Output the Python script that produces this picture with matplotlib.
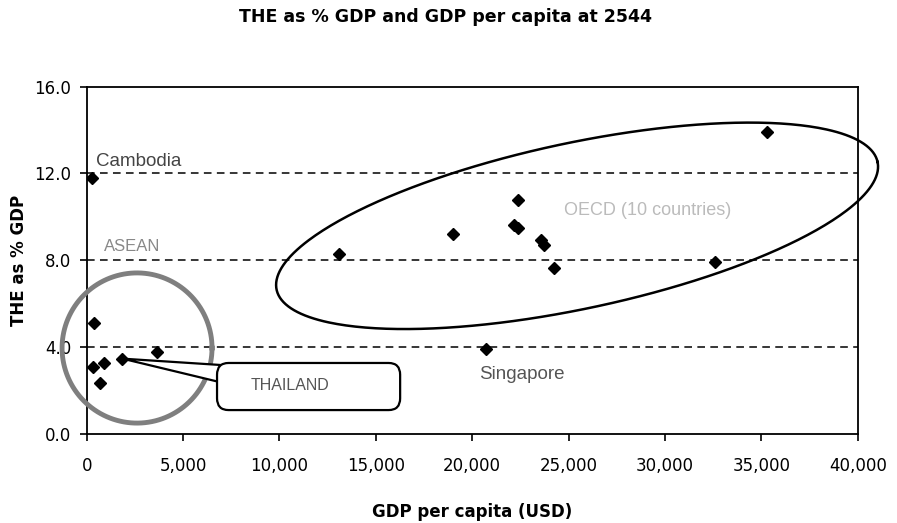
import matplotlib
matplotlib.use('Agg')
import matplotlib.pyplot as plt
import numpy as np
from matplotlib.patches import FancyBboxPatch, Polygon

# GDP per capita (USD) and THE as % of GDP
asean_gdp = [260, 380, 340, 900, 690, 1850, 3660]
asean_the = [11.78, 5.12, 3.07, 3.27, 2.35, 3.46, 3.78]
oecd_gdp = [13090, 19010, 22380, 22190, 22350, 23560, 23700, 24250, 32600, 35290]
oecd_the = [8.28, 9.2, 10.77, 9.62, 9.47, 8.93, 8.69, 7.64, 7.91, 13.92]
sing_gdp = [20710]
sing_the = [3.9]
ref_lines = [4.0, 8.0, 12.0]
xticks = [0, 5000, 10000, 15000, 20000, 25000, 30000, 35000, 40000]
yticks = [0.0, 4.0, 8.0, 12.0, 16.0]

fig = plt.figure(figsize=(8.97, 5.23), dpi=100)
ax = fig.add_axes([0.0967, 0.1707, 0.8595, 0.6639])

for v in ref_lines:
    ax.axhline(v, color='black', lw=1.1, ls=(0, (5, 3.5)), zorder=1)

all_gdp = asean_gdp + oecd_gdp + sing_gdp
all_the = asean_the + oecd_the + sing_the
ax.plot(all_gdp, all_the, ls='none', marker='D', ms=6.5, color='black', zorder=4)

ax.set_xlim(0, 40000)
ax.set_ylim(0, 16)
ax.set_xticks(xticks)
ax.set_xticklabels([f'{t:,}' for t in xticks])
ax.set_yticks(yticks)
ax.set_yticklabels([f'{t:.1f}' for t in yticks])
ax.tick_params(labelsize=12, length=5, width=1.2, color='black')
ax.tick_params(axis='x', pad=12)
ax.tick_params(axis='y', pad=6)
for s in ax.spines.values():
    s.set_linewidth(1.3)

# OECD ellipse (rotated in screen space)
t = np.linspace(0, 2 * np.pi, 400)
ex = 25440 + 15590 * np.cos(t) - 894 * np.sin(t)
ey = 9.58 + 2.943 * np.cos(t) + 3.737 * np.sin(t)
ax.plot(ex, ey, color='black', lw=1.8, zorder=3, clip_on=False)

# Thailand / ASEAN circle
ax.plot(2610 + 3890 * np.cos(t), 3.95 + 3.46 * np.sin(t),
        color='#7f7f7f', lw=3.5, zorder=3, clip_on=False)

# THAILAND callout
box = FancyBboxPatch((6760, 1.09), 9500, 2.17,
                     boxstyle='round,pad=0,rounding_size=600',
                     mutation_aspect=0.0009,
                     fc='white', ec='black', lw=1.6, zorder=5)
ax.add_patch(box)
wedge = Polygon([(1850, 3.46), (6900, 3.17), (6900, 2.38)], closed=True,
                fc='white', ec='black', lw=1.6, zorder=4.5)
ax.add_patch(wedge)
ax.text(10550, 2.2, 'THAILAND', fontsize=11.5, color='#555555',
        family='Liberation Sans', ha='center', va='center', zorder=6)

ax.text(480, 12.55, 'Cambodia', fontsize=13.5, color='#444444',
        family='Liberation Sans', ha='left', va='center')
ax.text(900, 8.65, 'ASEAN', fontsize=12, color='#888888',
        family='Liberation Sans', ha='left', va='center')
ax.text(22550, 2.75, 'Singapore', fontsize=13.5, color='#555555',
        family='Liberation Sans', ha='center', va='center')
ax.text(24740, 10.3, 'OECD (10 countries)', fontsize=13, color='#bbbbbb',
        family='Liberation Sans', ha='left', va='center')

fig.text(0.497, 0.967, 'THE as % GDP and GDP per capita at 2544', fontsize=12.5,
         fontweight='bold', ha='center', va='center')
ax.set_xlabel('GDP per capita (USD)', fontsize=12, fontweight='bold', labelpad=20)
ax.set_ylabel('THE as % GDP', fontsize=12, fontweight='bold', labelpad=5)

fig.savefig('out.png', dpi=100)
